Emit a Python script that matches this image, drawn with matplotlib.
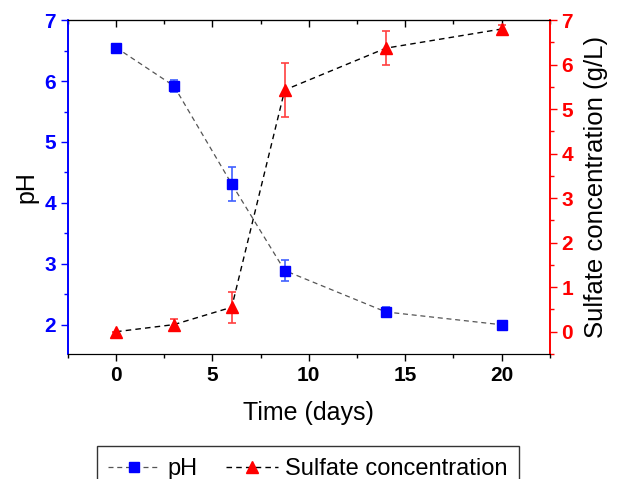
import matplotlib.pyplot as plt
from matplotlib.ticker import MultipleLocator

plt.rcParams['font.family'] = ['Liberation Sans', 'DejaVu Sans']

# data
days_ph = [0, 3, 6, 8.75, 14, 20]
ph = [6.55, 5.92, 4.31, 2.89, 2.21, 2.0]
ph_err = [0.0, 0.1, 0.28, 0.17, 0.08, 0.05]

days_s = [0, 3, 6, 8.75, 14, 20]
sulfate = [0.0, 0.16, 0.55, 5.43, 6.37, 6.8]
sulfate_err = [0.0, 0.12, 0.35, 0.6, 0.38, 0.1]

fig = plt.figure(figsize=(6.17, 4.79), dpi=100)
ax = fig.add_axes([0.110, 0.261, 0.781, 0.697])
ax2 = ax.twinx()

ax.errorbar(days_ph, ph, yerr=ph_err, fmt='none', ecolor='#4060ff', elinewidth=1.2,
            capsize=3, capthick=1.2, zorder=2)
l1, = ax.plot(days_ph, ph, ls='--', color='#555555', lw=0.9, marker='s', ms=7,
              mfc='blue', mec='blue', dashes=(4, 3), label='pH', zorder=3)

ax2.errorbar(days_s, sulfate, yerr=sulfate_err, fmt='none', ecolor='#ff4040', elinewidth=1.2,
             capsize=3, capthick=1.2, zorder=2)
l2, = ax2.plot(days_s, sulfate, ls='--', color='black', lw=1.0, marker='^', ms=9,
               mfc='red', mec='red', dashes=(4, 3), label='Sulfate concentration', zorder=3)

ax.set_xlim(-2.5, 22.5)
ax.set_ylim(1.52, 7)
ax2.set_ylim(-0.5, 7)

ax.xaxis.set_major_locator(MultipleLocator(5))
ax.xaxis.set_minor_locator(MultipleLocator(2.5))
ax.yaxis.set_major_locator(MultipleLocator(1))
ax.yaxis.set_minor_locator(MultipleLocator(0.5))
ax2.yaxis.set_major_locator(MultipleLocator(1))
ax2.yaxis.set_minor_locator(MultipleLocator(0.5))

ax.tick_params(axis='x', which='both', direction='out', labelsize=15, width=1)
ax.tick_params(axis='x', which='major', length=5)
ax.tick_params(axis='x', which='minor', length=3)
ax.tick_params(axis='y', which='major', direction='out', length=5, colors='blue', labelsize=15, width=1)
ax.tick_params(axis='y', which='minor', direction='out', length=3, colors='blue', width=1)
ax2.tick_params(axis='y', which='major', direction='out', length=5, colors='red', labelsize=15, width=1)
ax2.tick_params(axis='y', which='minor', direction='out', length=3, colors='red', width=1)

# top ticks point inward, no labels
top = ax.secondary_xaxis('top')
top.xaxis.set_major_locator(MultipleLocator(5))
top.xaxis.set_minor_locator(MultipleLocator(2.5))
top.tick_params(which='both', direction='in', labeltop=False, width=1)
top.tick_params(which='major', length=5)
top.tick_params(which='minor', length=3)

for lab in ax.get_xticklabels() + ax.get_yticklabels() + ax2.get_yticklabels():
    lab.set_fontweight('bold')

ax.spines['left'].set_color('blue')
ax2.spines['left'].set_color('blue')
ax2.spines['right'].set_color('red')
ax.spines['right'].set_color('red')
for sp in ['left', 'right']:
    ax.spines[sp].set_linewidth(1.2)
    ax2.spines[sp].set_linewidth(1.2)

ax.set_xlabel('Time (days)', fontsize=18, labelpad=12)
ax.set_ylabel('pH', fontsize=18, labelpad=4)
ax2.set_ylabel('Sulfate concentration (g/L)', fontsize=18.5, labelpad=8)

fig.legend(handles=[l1, l2], loc='upper center', bbox_to_anchor=(0.499, 0.068),
           ncol=2, fontsize=17, frameon=True, fancybox=False, edgecolor='black',
           handlelength=2.2, columnspacing=1.2, borderpad=0.5, handletextpad=0.3,
           borderaxespad=0)

fig.savefig('out.png', dpi=100)
